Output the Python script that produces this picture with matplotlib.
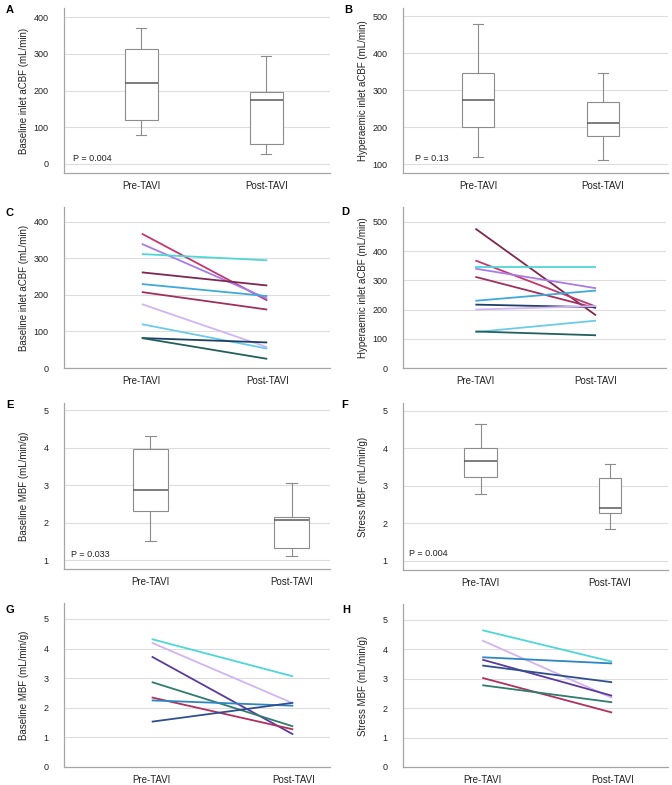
import matplotlib.pyplot as plt

plt.rcParams['font.family'] = ['Liberation Sans', 'DejaVu Sans']

groups = ['Pre-TAVI', 'Post-TAVI']

# box summaries: low whisker, Q1, median, Q3, high whisker
a_pre = [80, 120, 220, 312, 370]
a_post = [28, 55, 173, 197, 295]
b_pre = [120, 200, 272, 347, 480]
b_post = [112, 177, 210, 267, 347]
e_pre = [1.52, 2.30, 2.87, 3.97, 4.32]
e_post = [1.10, 1.32, 2.07, 2.14, 3.06]
f_pre = [2.78, 3.25, 3.66, 4.02, 4.65]
f_post = [1.85, 2.27, 2.42, 3.20, 3.58]

# paired patients
c_pre = [368, 340, 312, 262, 230, 208, 175, 120, 82, 82]
c_post = [185, 190, 295, 226, 197, 160, 57, 53, 70, 25]
c_colors = ['#C2386E', '#A97BE8', '#4FD6D6', '#7E2850', '#3FA9DA',
            '#A0305E', '#D2B4F2', '#6CCBE8', '#1E3F66', '#22605C']

d_pre = [477, 368, 340, 345, 312, 230, 217, 200, 123, 125]
d_post = [180, 210, 273, 345, 205, 265, 208, 212, 162, 112]
d_colors = ['#7E2850', '#C2386E', '#A97BE8', '#4FD6D6', '#A0305E',
            '#3FA9DA', '#1E3F66', '#D2B4F2', '#6CCBE8', '#22605C']

g_pre = [4.32, 4.20, 3.73, 2.87, 2.35, 2.25, 1.53]
g_post = [3.06, 2.15, 1.10, 1.37, 1.27, 2.07, 2.17]
g_colors = ['#4FD6D6', '#D2B4F2', '#5B3A9E', '#2E7D6E', '#B0305E',
            '#2E86C1', '#2F4F8F']

h_pre = [4.65, 4.30, 3.73, 3.65, 3.45, 3.03, 2.78]
h_post = [3.58, 2.35, 3.52, 2.42, 2.88, 1.85, 2.20]
h_colors = ['#4FD6D6', '#D2B4F2', '#2E86C1', '#5B3A9E', '#2F4F8F',
            '#B0305E', '#2E7D6E']

W, H = 672, 785
fig = plt.figure(figsize=(W / 100, H / 100), dpi=100)


def make_ax(left, top, right, bottom, xlim, ylim, yticks, ylabel, letter, lx, ly):
    ax = fig.add_axes([left / W, 1 - bottom / H, (right - left) / W, (bottom - top) / H])
    ax.set_xlim(xlim)
    ax.set_ylim(ylim)
    ax.set_yticks(yticks)
    ax.set_xticks([0, 1])
    ax.set_xticklabels(groups)
    ax.grid(axis='y', color='#DDDDDD', lw=0.8)
    ax.set_axisbelow(True)
    for s in ['top', 'right']:
        ax.spines[s].set_visible(False)
    for s in ['left', 'bottom']:
        ax.spines[s].set_color('#A6A6A6')
        ax.spines[s].set_linewidth(0.9)
    ax.tick_params(axis='y', length=0, pad=11, labelsize=6.5, labelcolor='#222222')
    ax.tick_params(axis='x', length=0, pad=6, labelsize=7, labelcolor='#222222')
    ax.set_ylabel(ylabel, fontsize=7, color='#222222')
    ax.yaxis.set_label_coords(-35 / (right - left), 0.5)
    fig.text(lx / W, 1 - ly / H, letter, fontsize=8, fontweight='bold', ha='center', va='center')
    return ax


def box_panel(ax, pre, post, widths, capw, ptext, px, py):
    stats = []
    for s in [pre, post]:
        stats.append({'whislo': s[0], 'q1': s[1], 'med': s[2], 'q3': s[3], 'whishi': s[4]})
    ax.bxp(stats, positions=[0, 1], widths=widths, showfliers=False, patch_artist=True,
           capwidths=capw,
           boxprops=dict(facecolor='white', edgecolor='#8C8C8C', lw=0.8),
           whiskerprops=dict(color='#8C8C8C', lw=0.8),
           capprops=dict(color='#8C8C8C', lw=0.8),
           medianprops=dict(color='#595959', lw=1.1))
    ax.set_xticks([0, 1])
    ax.set_xticklabels(groups)
    ax.text(px, py, ptext, transform=ax.transAxes, fontsize=6.5, color='#222222', va='center')


def line_panel(ax, pre, post, colors):
    for p0, p1, c in zip(pre, post, colors):
        ax.plot([0, 1], [p0, p1], color=c, lw=1.3, solid_capstyle='butt')


axA = make_ax(64, 8, 330, 173, (-0.62, 1.51), (-25, 425), [0, 100, 200, 300, 400],
              'Baseline inlet aCBF (mL/min)', 'A', 10, 10)
box_panel(axA, a_pre, a_post, [0.26, 0.26], 0.08, 'P = 0.004', 0.034, 0.09)

axB = make_ax(403, 8, 668, 173, (-0.6, 1.52), (76, 522), [100, 200, 300, 400, 500],
              'Hyperaemic inlet aCBF (mL/min)', 'B', 348, 10)
box_panel(axB, b_pre, b_post, [0.25, 0.26], 0.08, 'P = 0.13', 0.045, 0.085)

axC = make_ax(64, 207, 330, 368, (-0.62, 1.5), (0, 441), [0, 100, 200, 300, 400],
              'Baseline inlet aCBF (mL/min)', 'C', 9, 213)
line_panel(axC, c_pre, c_post, c_colors)

axD = make_ax(403, 207, 666, 368, (-0.6, 1.58), (0, 551), [0, 100, 200, 300, 400, 500],
              'Hyperaemic inlet aCBF (mL/min)', 'D', 345, 212)
line_panel(axD, d_pre, d_post, d_colors)

axE = make_ax(64, 403, 330, 569, (-0.61, 1.27), (0.76, 5.19), [1, 2, 3, 4, 5],
              'Baseline MBF (mL/min/g)', 'E', 10, 405)
box_panel(axE, e_pre, e_post, [0.25, 0.25], 0.08, 'P = 0.033', 0.026, 0.09)

axF = make_ax(403, 403, 668, 570, (-0.6, 1.45), (0.76, 5.21), [1, 2, 3, 4, 5],
              'Stress MBF (mL/min/g)', 'F', 345, 405)
box_panel(axF, f_pre, f_post, [0.25, 0.17], 0.08, 'P = 0.004', 0.023, 0.096)

axG = make_ax(64, 603, 330, 767, (-0.62, 1.26), (0, 5.54), [0, 1, 2, 3, 4, 5],
              'Baseline MBF (mL/min/g)', 'G', 10, 610)
line_panel(axG, g_pre, g_post, g_colors)

axH = make_ax(403, 604, 668, 767, (-0.61, 1.43), (0, 5.54), [0, 1, 2, 3, 4, 5],
              'Stress MBF (mL/min/g)', 'H', 346, 610)
line_panel(axH, h_pre, h_post, h_colors)

plt.savefig('out.png', dpi=100)
